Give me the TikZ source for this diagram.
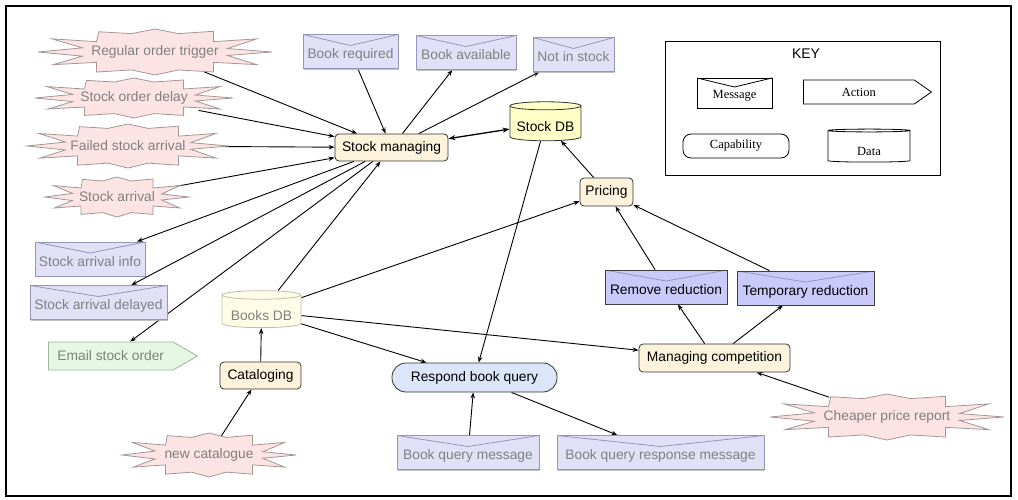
\documentclass[tikz,border=0pt]{standalone}
\usepackage{fontspec}
\setmainfont{Liberation Sans}
\newfontfamily\keyfont{Liberation Serif}
\usetikzlibrary{shapes.geometric,shapes.symbols,arrows.meta,backgrounds,shadows}
\definecolor{burstfill}{RGB}{252,228,228}
\definecolor{burstdraw}{RGB}{165,150,150}
\definecolor{fadetext}{RGB}{128,128,128}
\definecolor{msgfill}{RGB}{224,225,247}
\definecolor{msgdraw}{RGB}{150,150,185}
\definecolor{msgstrong}{RGB}{202,202,250}
\definecolor{capfill}{RGB}{253,243,220}
\definecolor{dbfill}{RGB}{255,255,200}
\definecolor{dbfade}{RGB}{255,253,232}
\definecolor{dbfadedraw}{RGB}{190,190,165}
\definecolor{rbqfill}{RGB}{220,230,250}
\definecolor{actfill}{RGB}{228,248,228}
\definecolor{actdraw}{RGB}{160,180,160}
\newcommand{\burstnode}[6]{%
  \begin{scope}[shift={(#2,#3)},xscale=#4,yscale=#5]
    \draw[burstline] (-1,0) -- (-0.62,0.18) -- (-0.87,0.55) -- (-0.5,0.45) -- (-0.5,0.87)
      -- (-0.2,0.78) -- (0,1) -- (0.2,0.78) -- (0.5,0.87) -- (0.5,0.45) -- (0.87,0.55)
      -- (0.62,0.15) -- (1,0) -- (0.62,-0.15) -- (0.87,-0.57) -- (0.5,-0.45) -- (0.5,-0.9)
      -- (0.2,-0.8) -- (0,-1) -- (-0.2,-0.8) -- (-0.48,-0.88) -- (-0.5,-0.45)
      -- (-0.88,-0.57) -- (-0.62,-0.18) -- cycle;
  \end{scope}
  \node[bursttext,minimum width={1.3*#4},minimum height={1.7*#5}] (#1) at (#2,#3) {#6};
}
\begin{document}
\begin{tikzpicture}[x=1pt,y=-1pt,
  font=\fontsize{13.8}{16}\selectfont,
  burstline/.style={draw=burstdraw,fill=burstfill,line width=0.8pt},
  bursttext/.style={rectangle,inner sep=0pt,text=fadetext},
  msgV/.style={line width=0.8pt},
  msgbase/.style={rectangle,inner xsep=0pt,inner ysep=0pt,text height=24pt,text depth=10pt,
    drop shadow={shadow xshift=1.2pt,shadow yshift=-1.2pt,fill=black!30,opacity=0.8},
    path picture={\draw[msgV,draw=msgdraw] (path picture bounding box.north west)
      -- ([yshift=-11pt]path picture bounding box.north) -- (path picture bounding box.north east);}},
  msgfade/.style={msgbase,draw=msgdraw,fill=msgfill,text=fadetext,line width=0.8pt},
  msgstrongstyle/.style={msgbase,draw=black!75,fill=msgstrong,text=black,line width=0.8pt},
  capnode/.style={rectangle,rounded corners=4pt,draw=black!80,fill=capfill,text=black,
    inner sep=0pt,minimum height=27pt,line width=0.8pt},
  dbnode/.style={cylinder,shape border rotate=90,aspect=0.14,draw=black!80,fill=dbfill,
    text=black,inner sep=0pt,line width=0.8pt,text height=20pt,text depth=3pt},
  dbfadestyle/.style={dbnode,draw=dbfadedraw,fill=dbfade,text=fadetext},
  actnode/.style={signal,signal to=east,signal pointer angle=60,draw=actdraw,fill=actfill,
    text=fadetext,inner sep=0pt,line width=0.8pt},
  conn/.style={draw=black,line width=0.9pt,-{Stealth[length=6pt,width=4.5pt]}},
  keybox/.style={draw=black,fill=white,line width=0.8pt,inner sep=0pt,font=\keyfont\fontsize{12.5}{14}\selectfont},
]
\useasboundingbox (0,0) rectangle (1018,500);
\draw[line width=2pt] (6,6) rectangle (1011,496);

% events
\burstnode{rot}{155}{52}{117}{23}{Regular order trigger}
\burstnode{sod}{134}{98}{99}{20}{Stock order delay}
\burstnode{fsa}{128}{146}{101}{22}{Failed stock arrival}
\burstnode{sa}{117}{197}{72}{20}{Stock arrival}
\burstnode{nc}{209}{455}{87}{22}{new catalogue}
\burstnode{cpr}{887}{417}{117}{23}{Cheaper price report}

% messages
\node[msgfade,minimum width=95pt] (breq) at (350.5,51.5) {Book required};
\node[msgfade,minimum width=100pt] (bavail) at (466,52.5) {Book available};
\node[msgfade,minimum width=81pt] (nis) at (573.5,54.5) {Not in stock};
\node[msgfade,minimum width=110pt] (sai) at (90,259) {Stock arrival info};
\node[msgfade,minimum width=137pt] (sad) at (98.5,302.5) {Stock arrival delayed};
\node[msgfade,minimum width=142pt] (bqm) at (468,452.5) {Book query message};
\node[msgfade,minimum width=207pt] (bqrm) at (660.5,452.5) {Book query response message};
\node[msgstrongstyle,minimum width=122pt] (rr) at (666,287) {Remove reduction};
\node[msgstrongstyle,minimum width=137pt] (tr) at (805.5,288) {Temporary reduction};

% capabilities
\node[capnode,minimum width=113pt] (sm) at (391.5,147.5) {Stock managing};
\node[capnode,minimum width=53pt,minimum height=28pt] (pr) at (606.5,192) {Pricing};
\node[capnode,minimum width=81pt] (cat) at (260.5,375.5) {Cataloging};
\node[capnode,minimum width=151pt,minimum height=28pt] (mc) at (714.5,358) {Managing competition};
\node[capnode,rounded corners=14pt,fill=rbqfill,minimum width=165pt,minimum height=29pt] (rbq) at (474.5,377.5) {Respond book query};

% data
\node[dbnode,minimum width=71pt,minimum height=39pt] (sdb) at (545.5,123.5) {Stock DB};
\node[dbfadestyle,minimum width=79pt,minimum height=37pt] (bdb) at (261.5,311.5) {Books DB};

% action
\node[actnode,minimum width=149pt,minimum height=28pt,anchor=west] (email) at (48,356) {Email stock order};

% key
\node[draw=black,line width=0.8pt,minimum width=275pt,minimum height=134pt,inner sep=0pt] (key) at (802.5,108) {};
\node[font=\fontsize{14}{16}\selectfont] (keytitle) at (806,54) {KEY};
\node[keybox,minimum width=75pt,text height=21pt,text depth=9pt,
  path picture={\draw[line width=0.8pt] (path picture bounding box.north west)
      -- ([yshift=-9pt]path picture bounding box.north) -- (path picture bounding box.north east);}]
  (keymsg) at (734.5,93) {Message};
\node[keybox,signal,signal to=east,signal pointer angle=70,minimum width=128pt,minimum height=24pt,anchor=west] (keyact) at (803,92) {Action};
\node[keybox,rounded corners=8pt,minimum width=106pt,minimum height=24pt] (keycap) at (736,146) {Capability};
\node[keybox,cylinder,shape border rotate=90,aspect=0.12,minimum width=82pt,minimum height=33pt,text height=22pt,text depth=3pt] (keydata) at (869,146.5) {Data};

% connectors
\begin{scope}[on background layer]
\draw[conn] (rot) -- (sm);
\draw[conn] (sod) -- (sm);
\draw[conn] (fsa) -- (sm);
\draw[conn] (sa) -- (sm);
\draw[conn] (sm) -- (sai);
\draw[conn] (sm) -- (sad);
\draw[conn] (sm) -- (email);
\draw[conn] (bdb) -- (sm);
\draw[conn] (breq) -- (sm);
\draw[conn] (sm) -- (bavail);
\draw[conn] (sm) -- (nis);
\draw[conn,line width=1.3pt,{Stealth[length=7pt,width=5pt]}-{Stealth[length=7pt,width=5pt]}] (sm) -- (sdb);
\draw[conn] (sdb) -- (rbq);
\draw[conn] (pr) -- (sdb);
\draw[conn] (bdb) -- (pr);
\draw[conn] (bdb) -- (mc);
\draw[conn] (bdb) -- (rbq);
\draw[conn] (cat) -- (bdb);
\draw[conn] (nc) -- (cat);
\draw[conn] (bqm) -- (rbq);
\draw[conn] (rbq) -- (bqrm);
\draw[conn] (rr) -- (pr);
\draw[conn] (tr) -- (pr);
\draw[conn] (mc) -- (rr);
\draw[conn] (mc) -- (tr);
\draw[conn] (cpr) -- (mc);
\end{scope}
\end{tikzpicture}
\end{document}
